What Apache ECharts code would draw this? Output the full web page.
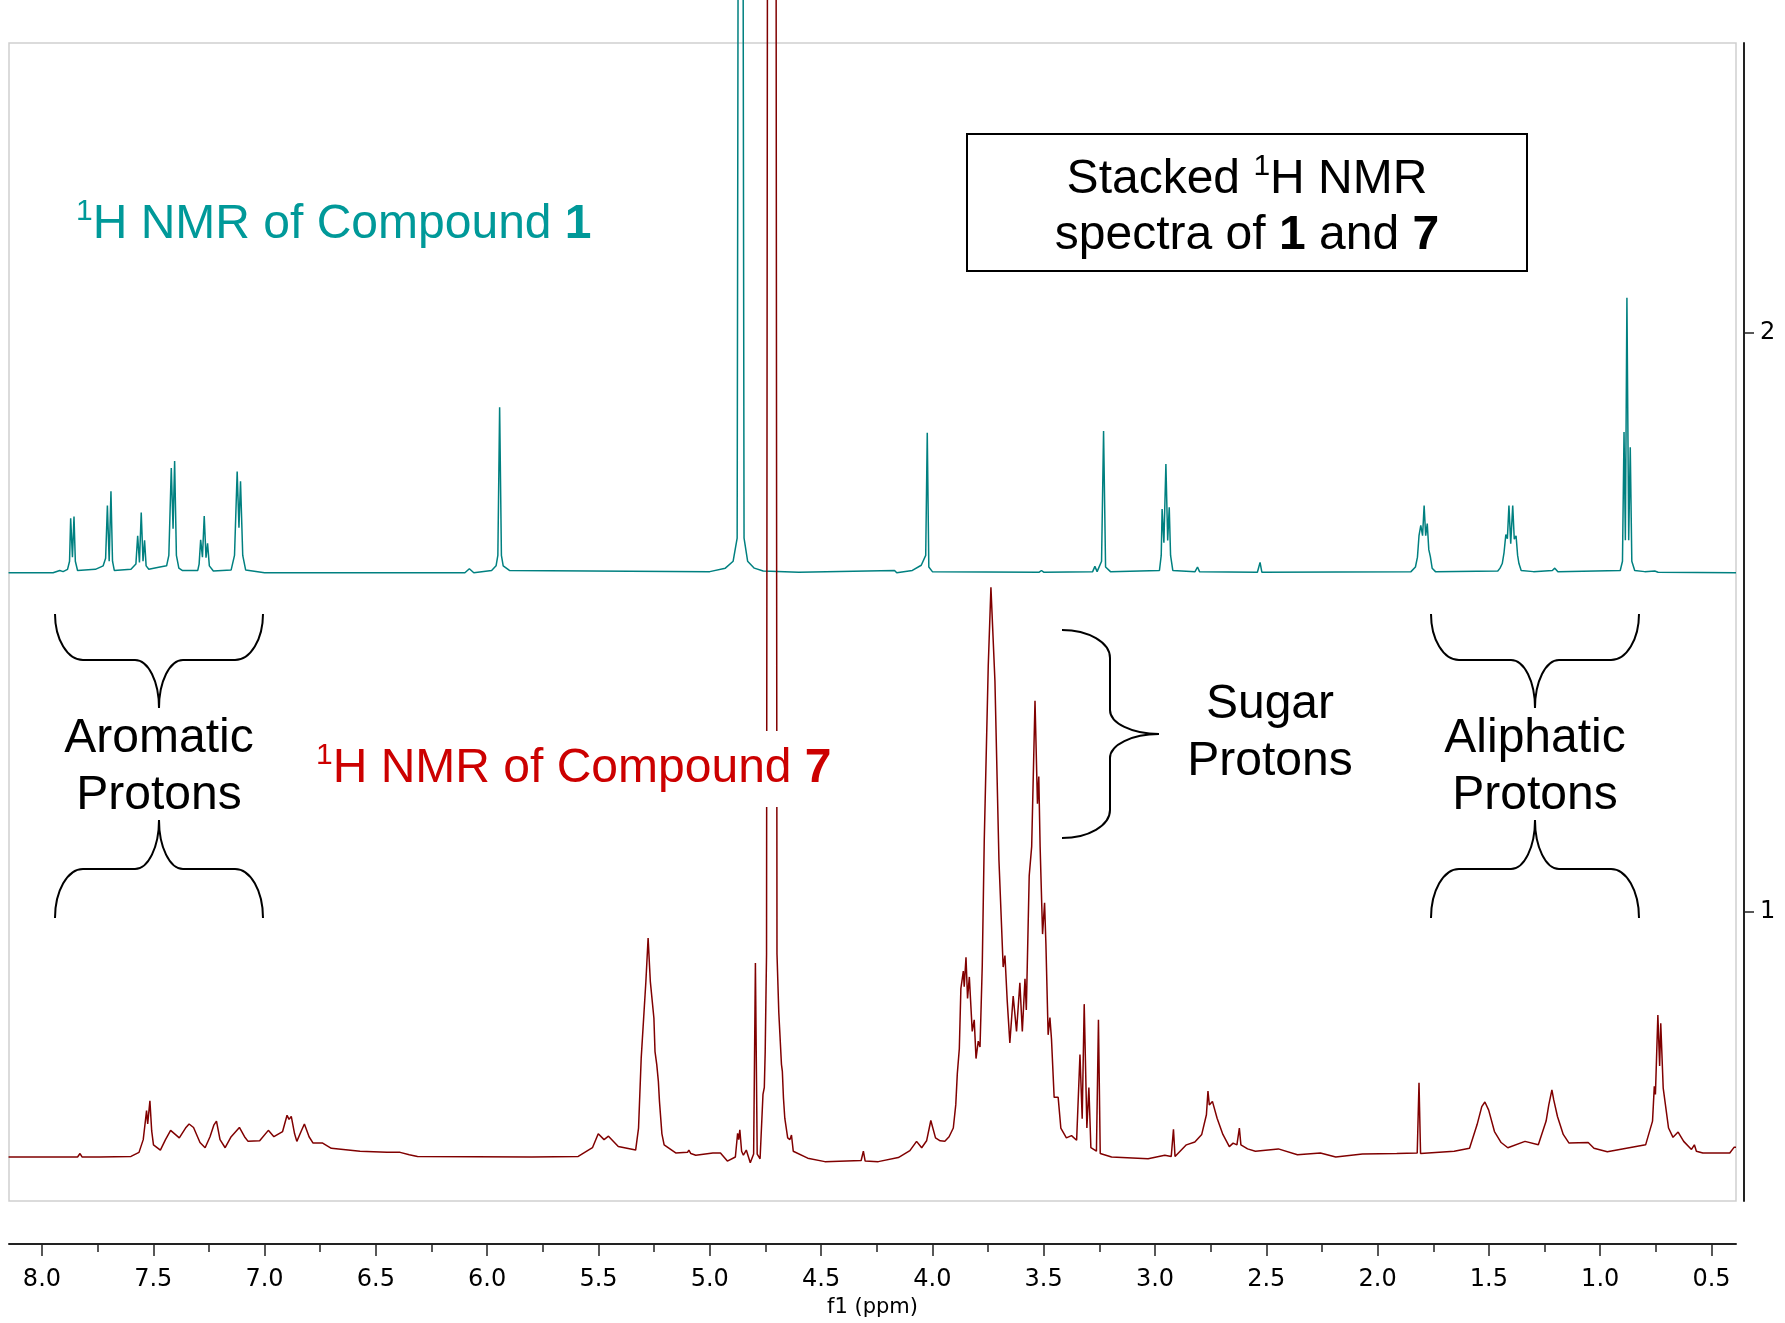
<!DOCTYPE html>
<html>
<head>
<meta charset="utf-8">
<script src="https://cdn.jsdelivr.net/npm/echarts@6/dist/echarts.min.js"></script>
<style>
  html, body { margin: 0; padding: 0; background: #fff; }
  #chart { width: 1785px; height: 1323px; }
</style>
</head>
<body>
<div id="chart"></div>
<script>
// chemical shift (ppm) and intensity above each spectrum's own baseline
const compound1 = [
  [8.15,0],[7.95,0],[7.92,0.004],[7.905,0.002],[7.885,0.006],[7.876,0.02],[7.871,0.094],[7.863,0.027],
  [7.856,0.097],[7.85,0.02],[7.84,0.004],[7.76,0.006],[7.725,0.012],[7.714,0.025],[7.706,0.116],
  [7.698,0.02],[7.69,0.141],[7.683,0.02],[7.675,0.004],[7.6,0.006],[7.578,0.015],[7.57,0.064],
  [7.562,0.018],[7.554,0.104],[7.546,0.02],[7.539,0.056],[7.532,0.012],[7.52,0.006],[7.47,0.01],
  [7.44,0.012],[7.43,0.03],[7.419,0.181],[7.411,0.076],[7.404,0.193],[7.396,0.03],[7.385,0.008],
  [7.37,0.004],[7.3,0.004],[7.294,0.015],[7.287,0.057],[7.279,0.027],[7.271,0.098],[7.263,0.026],
  [7.256,0.051],[7.248,0.012],[7.23,0.003],[7.15,0.005],[7.135,0.03],[7.123,0.175],[7.115,0.078],
  [7.108,0.158],[7.098,0.03],[7.085,0.005],[7.0,0],[6.1,0],[6.08,0.007],[6.06,0],[5.98,0.004],
  [5.96,0.012],[5.952,0.03],[5.944,0.286],[5.936,0.03],[5.928,0.012],[5.9,0.004],[5.0,0.002],
  [4.93,0.008],[4.895,0.02],[4.877,0.06],[4.868,2.2],[4.855,2.2],[4.846,0.06],[4.83,0.02],[4.8,0.008],
  [4.76,0.003],[4.6,0.001],[4.17,0.004],[4.16,0],[4.09,0.004],[4.05,0.013],[4.03,0.03],[4.023,0.242],
  [4.016,0.01],[4.0,0.002],[3.52,0.001],[3.51,0.004],[3.5,0.001],[3.28,0.002],[3.27,0.011],[3.26,0.002],
  [3.24,0.02],[3.231,0.245],[3.222,0.01],[3.2,0.002],[2.98,0.004],[2.972,0.03],[2.968,0.11],[2.96,0.052],
  [2.951,0.188],[2.943,0.056],[2.936,0.113],[2.93,0.03],[2.92,0.004],[2.82,0.002],[2.809,0.01],[2.8,0.002],
  [2.54,0.001],[2.528,0.018],[2.52,0.001],[1.85,0.002],[1.83,0.01],[1.821,0.027],[1.814,0.064],
  [1.806,0.082],[1.798,0.064],[1.791,0.116],[1.784,0.064],[1.777,0.085],[1.77,0.04],[1.763,0.028],
  [1.755,0.008],[1.74,0.002],[1.46,0.003],[1.45,0.008],[1.44,0.016],[1.432,0.035],[1.424,0.066],
  [1.417,0.059],[1.41,0.116],[1.402,0.05],[1.393,0.116],[1.386,0.058],[1.378,0.064],[1.371,0.03],
  [1.365,0.016],[1.355,0.004],[1.3,0.002],[1.215,0.004],[1.204,0.008],[1.19,0.002],[0.91,0.004],
  [0.9,0.02],[0.893,0.243],[0.887,0.056],[0.88,0.475],[0.872,0.056],[0.865,0.217],[0.858,0.02],
  [0.845,0.004],[0.8,0.002],[0.755,0.003],[0.74,0.001],[0.39,0]
];
const compound7 = [
  [8.15,0],[8.015,0],[7.84,0],[7.829,0.006],[7.82,0],[7.75,0],[7.744,0.003],[7.74,0],[7.6,0.001],
  [7.564,0.008],[7.545,0.03],[7.53,0.08],[7.525,0.057],[7.515,0.097],[7.507,0.045],[7.499,0.021],
  [7.468,0.012],[7.445,0.03],[7.422,0.046],[7.383,0.033],[7.355,0.05],[7.339,0.057],[7.319,0.051],
  [7.29,0.025],[7.267,0.016],[7.245,0.035],[7.228,0.055],[7.216,0.062],[7.2,0.03],[7.177,0.016],
  [7.15,0.035],[7.113,0.051],[7.09,0.035],[7.074,0.027],[7.022,0.028],[6.983,0.046],[6.958,0.035],
  [6.919,0.044],[6.899,0.072],[6.89,0.065],[6.88,0.07],[6.865,0.04],[6.855,0.027],[6.835,0.045],
  [6.821,0.057],[6.8,0.035],[6.782,0.024],[6.739,0.024],[6.7,0.015],[6.571,0.01],[6.45,0.008],
  [6.391,0.008],[6.35,0.004],[6.313,0.001],[5.8,0],[5.591,0.001],[5.527,0.016],[5.501,0.04],
  [5.475,0.03],[5.455,0.036],[5.411,0.018],[5.333,0.012],[5.32,0.05],[5.308,0.171],[5.287,0.303],
  [5.277,0.378],[5.267,0.303],[5.251,0.24],[5.246,0.182],[5.238,0.159],[5.231,0.131],[5.226,0.096],
  [5.215,0.04],[5.205,0.021],[5.153,0.007],[5.1,0.008],[5.094,0.012],[5.085,0.006],[5.063,0.003],
  [4.986,0.007],[4.952,0.007],[4.921,-0.007],[4.885,0],[4.875,0.041],[4.87,0.03],[4.865,0.047],
  [4.857,0.01],[4.849,0.003],[4.836,0.012],[4.818,-0.01],[4.803,0.005],[4.795,0.335],[4.787,0.005],
  [4.774,-0.003],[4.761,0.108],[4.755,0.12],[4.751,0.182],[4.745,0.35],[4.74,2.5],[4.703,2.5],
  [4.698,0.35],[4.69,0.25],[4.678,0.16],[4.674,0.148],[4.669,0.102],[4.663,0.067],[4.65,0.033],
  [4.64,0.03],[4.633,0.038],[4.625,0.01],[4.56,-0.002],[4.483,-0.008],[4.32,-0.006],[4.31,0.01],
  [4.302,-0.007],[4.243,-0.008],[4.153,-0.001],[4.101,0.011],[4.071,0.027],[4.048,0.016],[4.026,0.028],
  [4.007,0.063],[3.986,0.033],[3.965,0.028],[3.944,0.027],[3.925,0.035],[3.906,0.05],[3.895,0.09],
  [3.888,0.144],[3.879,0.187],[3.872,0.291],[3.861,0.321],[3.857,0.294],[3.849,0.345],[3.842,0.274],
  [3.834,0.311],[3.821,0.217],[3.812,0.237],[3.804,0.17],[3.794,0.2],[3.786,0.19],[3.776,0.33],
  [3.767,0.546],[3.749,0.849],[3.737,0.984],[3.719,0.822],[3.701,0.513],[3.682,0.328],[3.674,0.348],
  [3.664,0.271],[3.652,0.197],[3.637,0.278],[3.622,0.217],[3.607,0.301],[3.596,0.217],[3.584,0.308],
  [3.578,0.254],[3.565,0.486],[3.554,0.536],[3.539,0.788],[3.528,0.61],[3.522,0.657],[3.516,0.536],
  [3.505,0.385],[3.496,0.439],[3.49,0.368],[3.48,0.211],[3.472,0.241],[3.465,0.204],[3.453,0.103],
  [3.435,0.103],[3.423,0.05],[3.398,0.033],[3.375,0.037],[3.352,0.029],[3.337,0.177],[3.327,0.066],
  [3.318,0.264],[3.306,0.05],[3.297,0.12],[3.288,0.016],[3.263,0.01],[3.254,0.237],[3.246,0.006],
  [3.195,0],[3.031,-0.003],[2.956,0.003],[2.927,0.001],[2.917,0.048],[2.91,0.001],[2.859,0.021],
  [2.821,0.026],[2.79,0.039],[2.769,0.073],[2.762,0.114],[2.756,0.09],[2.742,0.096],[2.721,0.067],
  [2.695,0.039],[2.666,0.018],[2.649,0.024],[2.632,0.021],[2.621,0.05],[2.614,0.021],[2.584,0.014],
  [2.549,0.01],[2.446,0.014],[2.36,0.004],[2.257,0.007],[2.188,0],[2.068,0.005],[1.914,0.006],
  [1.822,0.007],[1.814,0.128],[1.807,0.006],[1.656,0.01],[1.587,0.015],[1.553,0.056],[1.532,0.087],
  [1.518,0.095],[1.501,0.081],[1.475,0.044],[1.445,0.025],[1.415,0.016],[1.338,0.027],[1.278,0.021],
  [1.243,0.062],[1.231,0.09],[1.226,0.087],[1.217,0.116],[1.209,0.099],[1.192,0.07],[1.166,0.039],
  [1.14,0.024],[1.054,0.025],[1.028,0.015],[0.968,0.009],[0.796,0.021],[0.765,0.062],[0.757,0.122],
  [0.752,0.108],[0.741,0.245],[0.733,0.157],[0.728,0.231],[0.717,0.119],[0.71,0.119],[0.693,0.05],
  [0.673,0.034],[0.65,0.043],[0.625,0.027],[0.59,0.013],[0.577,0.021],[0.568,0.01],[0.539,0.007],
  [0.418,0.007],[0.398,0.017],[0.39,0.017]
];
// vertical stacking offsets of the two spectra
const offset1 = 1.585;
const offset7 = 0.576;

const majorTicks = [8.0, 7.5, 7.0, 6.5, 6.0, 5.5, 5.0, 4.5, 4.0, 3.5, 3.0, 2.5, 2.0, 1.5, 1.0, 0.5];
const minorTicks = [7.75, 7.25, 6.75, 6.25, 5.75, 5.25, 4.75, 4.25, 3.75, 3.25, 2.75, 2.25, 1.75, 1.25, 0.75];
const yTicks = [1, 2];

const TXT = '"Liberation Sans", Arial, sans-serif';
const AX = '"DejaVu Sans", Verdana, sans-serif';

function richStyles(color) {
  return {
    t: { fontFamily: TXT, fontSize: 48, fill: color, lineHeight: 56 },
    sup: { fontFamily: TXT, fontSize: 30, fill: color, lineHeight: 37, verticalAlign: 'top' },
    b: { fontFamily: TXT, fontSize: 48, fontWeight: 'bold', fill: color, lineHeight: 56 }
  };
}

// y is the middle of the line; shifted a little to sit on the reference baselines
function label(text, x, y, color, align, extra) {
  return {
    type: 'text', x: x, y: y + 3, z: 100,
    style: Object.assign({
      text: text, rich: richStyles(color), fill: color,
      fontFamily: TXT, fontSize: 48, align: align, verticalAlign: 'middle'
    }, extra || {})
  };
}

// curly brace built from bezier pieces; a = along the brace, c = across it
function brace(a0, a1, cEnd, cMid, cTip, vertical) {
  const P = (a, c) => vertical ? [c, a] : [a, c];
  const k = 0.552, r = 28, s = 24, ac = (a0 + a1) / 2;
  const segs = [
    [P(a0, cEnd), P(a0, cEnd + k * (cMid - cEnd)), P(a0 + r - k * r, cMid), P(a0 + r, cMid)],
    [P(a0 + r, cMid), null, null, P(ac - s, cMid)],
    [P(ac - s, cMid), P(ac - s + k * s, cMid), P(ac, cTip - k * (cTip - cMid)), P(ac, cTip)],
    [P(ac, cTip), P(ac, cTip - k * (cTip - cMid)), P(ac + s - k * s, cMid), P(ac + s, cMid)],
    [P(ac + s, cMid), null, null, P(a1 - r, cMid)],
    [P(a1 - r, cMid), P(a1 - r + k * r, cMid), P(a1, cEnd + k * (cMid - cEnd)), P(a1, cEnd)]
  ];
  return segs.map(function (sg) {
    const p = sg[0], c1 = sg[1], c2 = sg[2], q = sg[3];
    if (c1) {
      return { type: 'bezierCurve', z: 100,
        shape: { x1: p[0], y1: p[1], cpx1: c1[0], cpy1: c1[1], cpx2: c2[0], cpy2: c2[1], x2: q[0], y2: q[1] },
        style: { stroke: '#000', lineWidth: 2, fill: null } };
    }
    return { type: 'line', z: 100,
      shape: { x1: p[0], y1: p[1], x2: q[0], y2: q[1] },
      style: { stroke: '#000', lineWidth: 2 } };
  });
}

const chart = echarts.init(document.getElementById('chart'));

const graphics = [].concat(
  [label('{sup|1}{t|H NMR of Compound }{b|1}', 76, 222, '#009999', 'left')],
  [label('{sup|1}{t|H NMR of Compound }{b|7}', 310, 766, '#cc0000', 'left',
    { backgroundColor: '#fff', padding: [10, 6] })],
  [{ type: 'rect', z: 100, shape: { x: 967, y: 134, width: 560, height: 137 },
     style: { stroke: '#000', lineWidth: 2, fill: '#fff' } }],
  [label('{t|Stacked }{sup|1}{t|H NMR}', 1247, 177, '#000', 'center')],
  [label('{t|spectra of }{b|1}{t| and }{b|7}', 1247, 233, '#000', 'center')],
  [label('{t|Aromatic}', 159, 736, '#000', 'center'), label('{t|Protons}', 159, 793, '#000', 'center')],
  [label('{t|Sugar}', 1270, 702, '#000', 'center'), label('{t|Protons}', 1270, 759, '#000', 'center')],
  [label('{t|Aliphatic}', 1535, 736, '#000', 'center'), label('{t|Protons}', 1535, 793, '#000', 'center')],
  brace(55, 263, 614, 660, 708, false),
  brace(55, 263, 918, 869, 820, false),
  brace(1431, 1639, 614, 660, 708, false),
  brace(1431, 1639, 918, 869, 820, false),
  brace(630, 838, 1062, 1110, 1159, true)
);

const option = {
  backgroundColor: '#fff',
  animation: false,
  grid: { left: 9, top: 43, right: 49, bottom: 122, show: true, borderColor: '#cfcfcf', borderWidth: 1.5 },
  xAxis: [
    {
      type: 'value', inverse: true, min: 0.39, max: 8.148, position: 'bottom', offset: 43,
      name: 'f1 (ppm)', nameLocation: 'middle', nameGap: 48,
      nameTextStyle: { fontFamily: AX, fontSize: 21, color: '#000' },
      axisLine: { show: true, onZero: false, lineStyle: { color: '#222', width: 2 } },
      axisTick: { show: true, customValues: majorTicks, length: 12, lineStyle: { color: '#222', width: 1.5 } },
      axisLabel: { show: true, customValues: majorTicks, margin: 24, fontFamily: AX, fontSize: 24, color: '#000',
        formatter: function (v) { return v.toFixed(1); } },
      splitLine: { show: false }
    },
    {
      type: 'value', inverse: true, min: 0.39, max: 8.148, position: 'bottom', offset: 43,
      axisLine: { show: false },
      axisTick: { show: true, customValues: minorTicks, length: 8, lineStyle: { color: '#222', width: 1.5 } },
      axisLabel: { show: false },
      splitLine: { show: false }
    }
  ],
  yAxis: {
    type: 'value', position: 'right', min: 0.5, max: 2.5, offset: 8,
    axisLine: { show: true, onZero: false, lineStyle: { color: '#222', width: 2 } },
    axisTick: { show: true, customValues: yTicks, length: 10, lineStyle: { color: '#222', width: 1.5 } },
    axisLabel: { show: true, customValues: yTicks, margin: 16, fontFamily: AX, fontSize: 24, color: '#000' },
    splitLine: { show: false }
  },
  series: [
    {
      name: 'Compound 1', type: 'line', xAxisIndex: 0, showSymbol: false, symbol: 'none', clip: false, z: 2,
      lineStyle: { color: '#008080', width: 1.5 },
      data: compound1.map(function (d) { return [d[0], offset1 + d[1]]; })
    },
    {
      name: 'Compound 7', type: 'line', xAxisIndex: 0, showSymbol: false, symbol: 'none', clip: false, z: 3,
      lineStyle: { color: '#800000', width: 1.5 },
      data: compound7.map(function (d) { return [d[0], offset7 + d[1]]; })
    }
  ],
  graphic: graphics
};

chart.setOption(option);
</script>
</body>
</html>
